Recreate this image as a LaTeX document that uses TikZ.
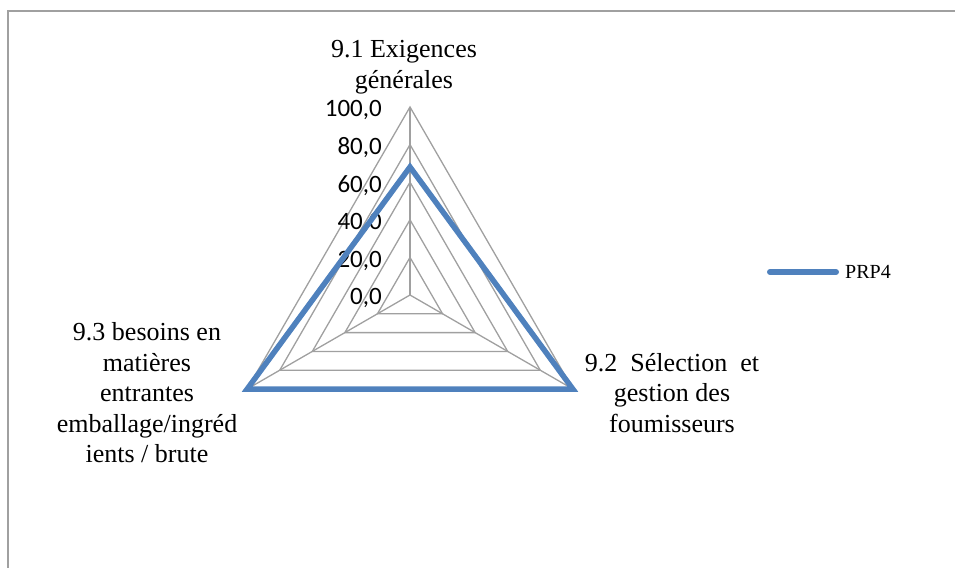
\documentclass[tikz,border=0pt]{standalone}
\usepackage{fontspec}
\setmainfont{Liberation Serif}
\newfontfamily\numfont{Carlito}
\definecolor{series}{HTML}{4F81BD}
\definecolor{gridgray}{HTML}{A0A0A0}
\definecolor{framegray}{HTML}{A0A0A0}
\begin{document}
\begin{tikzpicture}[x=1bp,y=-1bp,
  gridline/.style={draw=gridgray,line width=1.3bp},
  seriesline/.style={draw=series,line width=5.5bp,miter limit=10},
  axislabel/.style={align=center,inner sep=0pt,font=\fontsize{26bp}{30.5bp}\selectfont},
  ticklabel/.style={anchor=east,inner sep=0pt,font=\numfont\fontsize{25bp}{25bp}\selectfont},
  legendline/.style={draw=series,line width=6bp,line cap=round},
]
\useasboundingbox (0,0) rectangle (955,568);
% chart frame (open to the right and bottom)
\draw[framegray,line width=2bp] (8,568) -- (8,11) -- (955,11);

% radar centre and axis ends (radius 188 = 100)
\coordinate (O) at (410,295);
\coordinate (A1) at (410,107);
\coordinate (A2) at (572.8,389);
\coordinate (A3) at (247.2,389);

% rings at 20, 40, 60, 80, 100
\foreach \r in {37.6,75.2,112.8,150.4,188}
  \draw[gridline,shift={(O)}] (-90:\r) -- (30:\r) -- (150:\r) -- cycle;
% spokes
\draw[gridline] (O) -- (A1);
\draw[gridline] (O) -- (A2);
\draw[gridline] (O) -- (A3);

% scale labels
\foreach \v/\y in {100/110,80/148,60/186,40/223,20/261,0/298}
  \node[ticklabel] at (382,\y) {\v,0};

% data series PRP4
\coordinate (S1) at (410,167);
\coordinate (S2) at (572.8,389);
\coordinate (S3) at (247.2,389);
\draw[seriesline] (S1) -- (S2) -- (S3) -- cycle;

% axis titles
\node[axislabel] (L1) at (404,67) {9.1 Exigences\\générales};
\node[axislabel] (L2) at (672,393) {9.2\ \ Sélection\ \ et\\gestion des\\foumisseurs};
\node[axislabel] (L3) at (147,393) {9.3 besoins en\\matières\\entrantes\\emballage/ingréd\\ients / brute};

% legend
\coordinate (G1) at (770,272);
\coordinate (G2) at (836,272);
\draw[legendline] (G1) -- (G2);
\node[anchor=west,inner sep=0pt,font=\fontsize{20bp}{20bp}\selectfont] (G) at (845,272) {PRP4};
\end{tikzpicture}
\end{document}
